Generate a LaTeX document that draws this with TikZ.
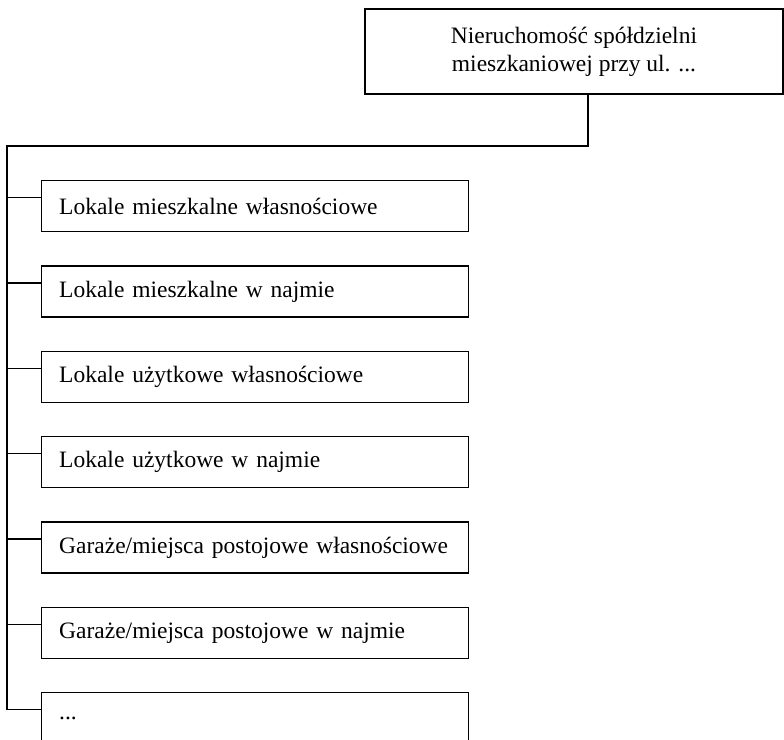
\documentclass[tikz,border=0pt]{standalone}
\usepackage{fontspec}
\setmainfont{Liberation Serif}
\begin{document}
\begin{tikzpicture}[x=0.5pt, y=-0.5pt, line width=0.7pt,
  topbox/.style={draw, minimum width=209pt, minimum height=42.5pt, align=center, font=\fontsize{11.75}{14}\selectfont},
  itembox/.style={draw, anchor=north west, text width=196pt, inner xsep=8.75pt, minimum height=25.5pt, align=left, font=\fontsize{11.75}{14}\selectfont}]
\useasboundingbox (0,0) rectangle (784,740);
\node[topbox] (root) at (574,51.5) {Nieruchomość spółdzielni\\mieszkaniowej przy ul. ...};
\node[itembox] (l1) at (41,180) {Lokale mieszkalne własnościowe};
\node[itembox] (l2) at (41,265.3) {Lokale mieszkalne w najmie};
\node[itembox] (l3) at (41,350.6) {Lokale użytkowe własnościowe};
\node[itembox] (l4) at (41,436) {Lokale użytkowe w najmie};
\node[itembox] (l5) at (41,521.3) {Garaże/miejsca postojowe własnościowe};
\node[itembox] (l6) at (41,606.6) {Garaże/miejsca postojowe w najmie};
\node[itembox] (l7) at (41,692) {...};
\coordinate (t) at (588,146);
\coordinate (c) at (7,146);
\foreach \i in {1,...,7}
  \coordinate (a\i) at ([yshift=4.25pt]l\i.west);
\draw (root.south -| t) -- (t) -- (c) |- (a7);
\foreach \i in {1,...,6}
  \draw (c |- a\i) -- (a\i);
\end{tikzpicture}
\end{document}
